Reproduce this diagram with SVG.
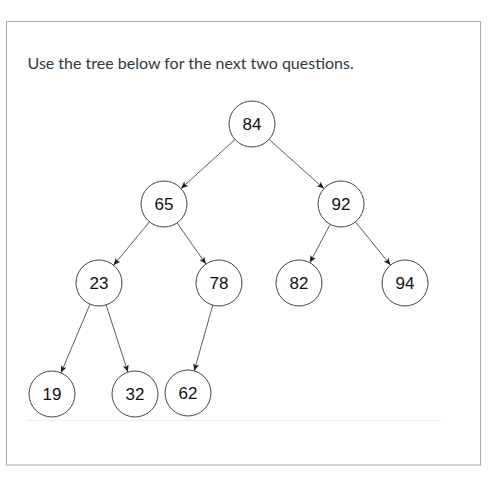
<svg xmlns="http://www.w3.org/2000/svg" width="491" height="486" viewBox="0 0 491 486">
<style>
.node circle{fill:#fff;stroke:#444;stroke-width:1}
.node text{font-family:"Liberation Sans",Arial,sans-serif;font-size:17px;fill:#111;text-anchor:middle;dominant-baseline:central}
.edge{stroke:#333;stroke-width:0.8;fill:none;marker-end:url(#arr)}
</style>
<defs>
<marker id="arr" markerUnits="userSpaceOnUse" markerWidth="8" markerHeight="8" viewBox="0 0 8 8" refX="7" refY="4" orient="auto">
<path d="M0,1 L7,4 L0,7 L1.5,4 Z" fill="#222"/>
</marker>
</defs>
<rect x="0" y="0" width="491" height="486" fill="#fff"/>
<rect x="6.5" y="21.5" width="474" height="443.5" fill="#fff" stroke="#aaa" stroke-width="1"/>
<text x="27.5" y="69" font-family="Lato,'Liberation Sans',sans-serif" font-size="16" fill="#2d3b45">Use the tree below for the next two questions.</text>
<line x1="27" y1="420.5" x2="441" y2="420.5" stroke="#eee" stroke-width="1"/>
<g id="edges">
<line class="edge" x1="235" y1="139.5" x2="181" y2="188.5"/>
<line class="edge" x1="269.1" y1="139.4" x2="323.9" y2="188.6"/>
<line class="edge" x1="149.4" y1="221.8" x2="113.6" y2="265.2"/>
<line class="edge" x1="177.1" y1="222.9" x2="205.9" y2="264.1"/>
<line class="edge" x1="330.2" y1="224.3" x2="309.8" y2="262.7"/>
<line class="edge" x1="355.5" y1="221.9" x2="390.5" y2="265.1"/>
<line class="edge" x1="90" y1="304.2" x2="61" y2="372.8"/>
<line class="edge" x1="106.1" y1="304.9" x2="127.9" y2="372.1"/>
<line class="edge" x1="212.8" y1="305.1" x2="194.2" y2="370.9"/>
</g>
<g id="n84" class="node"><circle cx="252" cy="124" r="23"/><text x="252" y="124">84</text></g>
<g id="n65" class="node"><circle cx="164" cy="204" r="23"/><text x="164" y="204">65</text></g>
<g id="n92" class="node"><circle cx="341" cy="204" r="23"/><text x="341" y="204">92</text></g>
<g id="n23" class="node"><circle cx="99" cy="283" r="23"/><text x="99" y="283">23</text></g>
<g id="n78" class="node"><circle cx="219" cy="283" r="23"/><text x="219" y="283">78</text></g>
<g id="n82" class="node"><circle cx="299" cy="283" r="23"/><text x="299" y="283">82</text></g>
<g id="n94" class="node"><circle cx="405" cy="283" r="23"/><text x="405" y="283">94</text></g>
<g id="n19" class="node"><circle cx="52" cy="394" r="23"/><text x="52" y="394">19</text></g>
<g id="n32" class="node"><circle cx="135" cy="394" r="23"/><text x="135" y="394">32</text></g>
<g id="n62" class="node"><circle cx="188" cy="393" r="23"/><text x="188" y="393">62</text></g>
</svg>
